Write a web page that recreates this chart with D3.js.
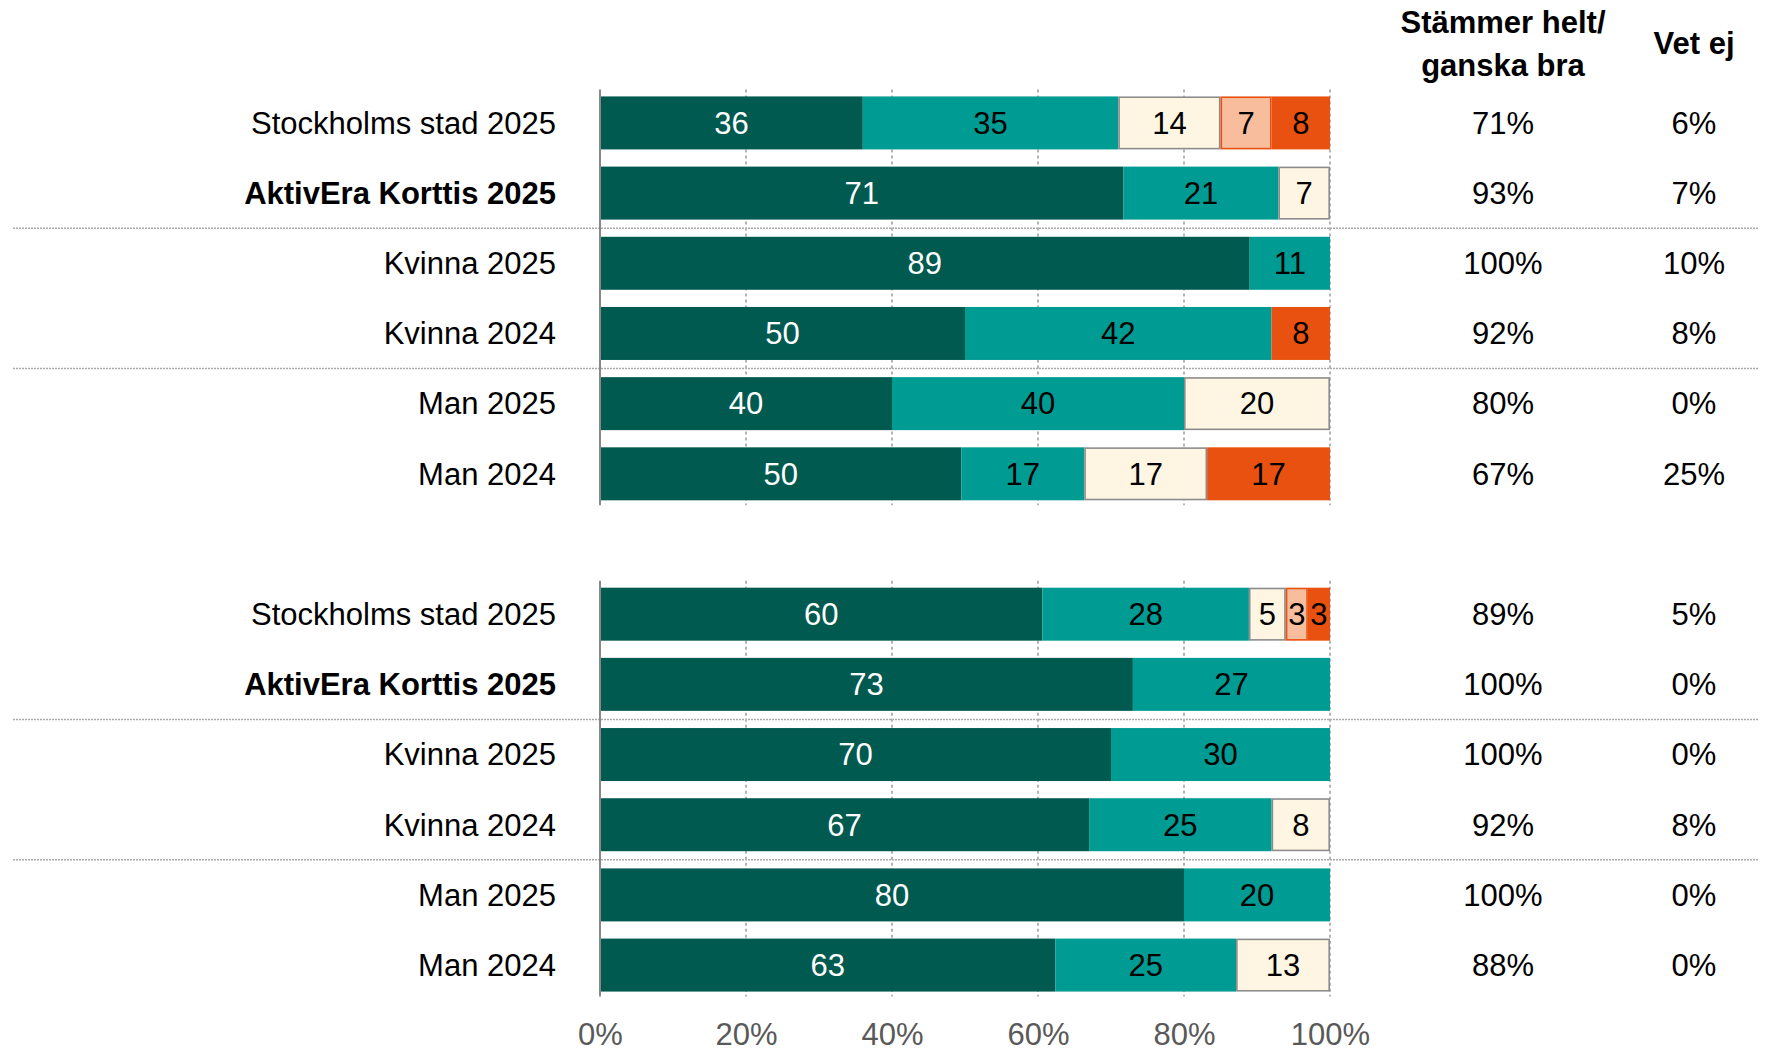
<!DOCTYPE html>
<html>
<head>
<meta charset="utf-8">
<script src="https://cdn.jsdelivr.net/npm/d3@7"></script>
<style>
  html, body { margin: 0; padding: 0; background: #fff; }
  svg { display: block; font-family: "Liberation Sans", Arial, sans-serif; }
</style>
</head>
<body>
<svg id="chart" width="1767" height="1051"></svg>
<script>
'use strict';

// row labels, same in both panels
const categories = ['Stockholms stad 2025', 'AktivEra Korttis 2025', 'Kvinna 2025', 'Kvinna 2024', 'Man 2025', 'Man 2024'];
const boldCategories = ['AktivEra Korttis 2025'];

// answer scale, from best to worst
const seriesNames = ['Stämmer helt', 'Stämmer ganska bra', 'Stämmer ganska dåligt', 'Stämmer mycket dåligt', 'Stämmer inte alls'];
const seriesColours = ['#005a4f', '#009b93', '#fff5e3', '#f8bd9d', '#e8510f'];
const seriesStroke = [null, null, '#8c8c8c', '#e8510f', null];
const seriesText = ['#fff', '#000', '#000', '#000', '#000'];

// panel 1, one row per category
const panel1Values = [
	[36, 35, 14, 7, 8],
	[71, 21, 7, 0, 0],
	[89, 11, 0, 0, 0],
	[50, 42, 0, 0, 8],
	[40, 40, 20, 0, 0],
	[50, 17, 17, 0, 17],
];
const panel1Positive = [71, 93, 100, 92, 80, 67];
const panel1DontKnow = [6, 7, 10, 8, 0, 25];

// panel 2
const panel2Values = [
	[60, 28, 5, 3, 3],
	[73, 27, 0, 0, 0],
	[70, 30, 0, 0, 0],
	[67, 25, 8, 0, 0],
	[80, 20, 0, 0, 0],
	[63, 25, 13, 0, 0],
];
const panel2Positive = [89, 100, 100, 92, 100, 88];
const panel2DontKnow = [5, 0, 0, 8, 0, 0];

const xTicks = [0, 0.2, 0.4, 0.6, 0.8, 1];
const headPositive = ['Stämmer helt/', 'ganska bra'];
const headDontKnow = 'Vet ej';

const FONT = 31;

const svg = d3.select('#chart');

const x = d3.scaleLinear().domain([0, 1]).range([600, 1330]);

// 13 slots: 6 rows, an empty one, 6 rows
const panels = [
	{id: 'a', values: panel1Values, positive: panel1Positive, dontKnow: panel1DontKnow},
	{id: 'b', values: panel2Values, positive: panel2Positive, dontKnow: panel2DontKnow},
];
const slots = ['a0', 'a1', 'a2', 'a3', 'a4', 'a5', 'gap', 'b0', 'b1', 'b2', 'b3', 'b4', 'b5'];
const y = d3.scaleBand().domain(slots).range([88, 1000]).paddingInner(0.245).paddingOuter(0.12);

const stack = d3.stack()
	.keys(seriesNames)
	.offset(d3.stackOffsetExpand);

// separators between the row groups
const sepPairs = [['a1', 'a2'], ['a3', 'a4'], ['b1', 'b2'], ['b3', 'b4']];
svg.append('g').attr('class', 'separators')
	.selectAll('line')
	.data(sepPairs)
	.join('line')
		.attr('x1', 13)
		.attr('x2', 1758)
		.attr('y1', d => (y(d[0]) + y.bandwidth() + y(d[1])) / 2)
		.attr('y2', d => (y(d[0]) + y.bandwidth() + y(d[1])) / 2)
		.attr('stroke', '#a8a8a8')
		.attr('stroke-width', 1.6)
		.attr('stroke-dasharray', '2,1');

panels.forEach(panel => {
	const rows = panel.values.map((v, i) => {
		let row = {slot: panel.id + i, category: categories[i]};
		seriesNames.forEach((name, j) => { row[name] = v[j]; });
		return row;
	});
	const top = y(panel.id + '0') - 7;
	const bottom = y(panel.id + '5') + y.bandwidth() + 5;

	const g = svg.append('g').attr('class', 'panel-' + panel.id);

	// dotted gridlines behind the bars
	g.append('g')
		.selectAll('line')
		.data(xTicks.filter(d => d > 0))
		.join('line')
			.attr('x1', d => x(d))
			.attr('x2', d => x(d))
			.attr('y1', top)
			.attr('y2', bottom)
			.attr('stroke', '#b4b4b4')
			.attr('stroke-width', 2)
			.attr('stroke-dasharray', '3,3');

	const layers = stack(rows);
	layers.forEach((layer, j) => {
		const lg = g.append('g').attr('class', 'series-' + j);
		const segs = layer.filter(d => d.data[seriesNames[j]] > 0);
		const inset = seriesStroke[j] ? 0.8 : 0;
		lg.selectAll('rect')
			.data(segs)
			.join('rect')
				.attr('x', d => x(d[0]) + inset)
				.attr('y', d => y(d.data.slot) + inset)
				.attr('width', d => Math.max(0, x(d[1]) - x(d[0]) - 2 * inset))
				.attr('height', y.bandwidth() - 2 * inset)
				.attr('fill', seriesColours[j])
				.attr('stroke', seriesStroke[j] || 'none')
				.attr('stroke-width', 1.6);
		lg.selectAll('text')
			.data(segs)
			.join('text')
				.attr('x', d => (x(d[0]) + x(d[1])) / 2)
				.attr('y', d => y(d.data.slot) + y.bandwidth() / 2)
				.attr('dy', '0.35em')
				.attr('text-anchor', 'middle')
				.attr('font-size', FONT)
				.attr('fill', seriesText[j])
				.text(d => d.data[seriesNames[j]]);
	});

	// y axis line
	g.append('line')
		.attr('x1', x(0))
		.attr('x2', x(0))
		.attr('y1', top)
		.attr('y2', bottom)
		.attr('stroke', '#888')
		.attr('stroke-width', 2);

	// category labels
	g.append('g')
		.selectAll('text')
		.data(rows)
		.join('text')
			.attr('x', x(0) - 44)
			.attr('y', d => y(d.slot) + y.bandwidth() / 2)
			.attr('dy', '0.35em')
			.attr('text-anchor', 'end')
			.attr('font-size', FONT)
			.attr('font-weight', d => boldCategories.includes(d.category) ? 'bold' : 'normal')
			.attr('fill', '#000')
			.text(d => d.category);

	// right hand columns
	g.append('g')
		.selectAll('text')
		.data(panel.positive)
		.join('text')
			.attr('x', 1503)
			.attr('y', (d, i) => y(panel.id + i) + y.bandwidth() / 2)
			.attr('dy', '0.35em')
			.attr('text-anchor', 'middle')
			.attr('font-size', FONT)
			.text(d => d + '%');
	g.append('g')
		.selectAll('text')
		.data(panel.dontKnow)
		.join('text')
			.attr('x', 1694)
			.attr('y', (d, i) => y(panel.id + i) + y.bandwidth() / 2)
			.attr('dy', '0.35em')
			.attr('text-anchor', 'middle')
			.attr('font-size', FONT)
			.text(d => d + '%');
});

// x axis labels at the bottom only
const xAxis = svg.append('g')
	.attr('transform', 'translate(0,1023)')
	.call(d3.axisBottom(x).tickValues(xTicks).tickFormat(d3.format('.0%')).tickSize(0).tickPadding(0));
xAxis.select('.domain').remove();
xAxis.selectAll('text')
	.attr('font-size', FONT)
	.attr('font-family', '"Liberation Sans", Arial, sans-serif')
	.attr('fill', '#595959')
	.attr('dy', '0.71em');

// column headers
svg.append('text')
	.attr('x', 1503)
	.attr('text-anchor', 'middle')
	.attr('font-size', FONT)
	.attr('font-weight', 'bold')
	.selectAll('tspan')
	.data(headPositive)
	.join('tspan')
		.attr('x', 1503)
		.attr('y', (d, i) => 22 + i * 43)
		.attr('dy', '0.35em')
		.text(d => d);
svg.append('text')
	.attr('x', 1694)
	.attr('y', 43)
	.attr('dy', '0.35em')
	.attr('text-anchor', 'middle')
	.attr('font-size', FONT)
	.attr('font-weight', 'bold')
	.text(headDontKnow);
</script>
</body>
</html>
